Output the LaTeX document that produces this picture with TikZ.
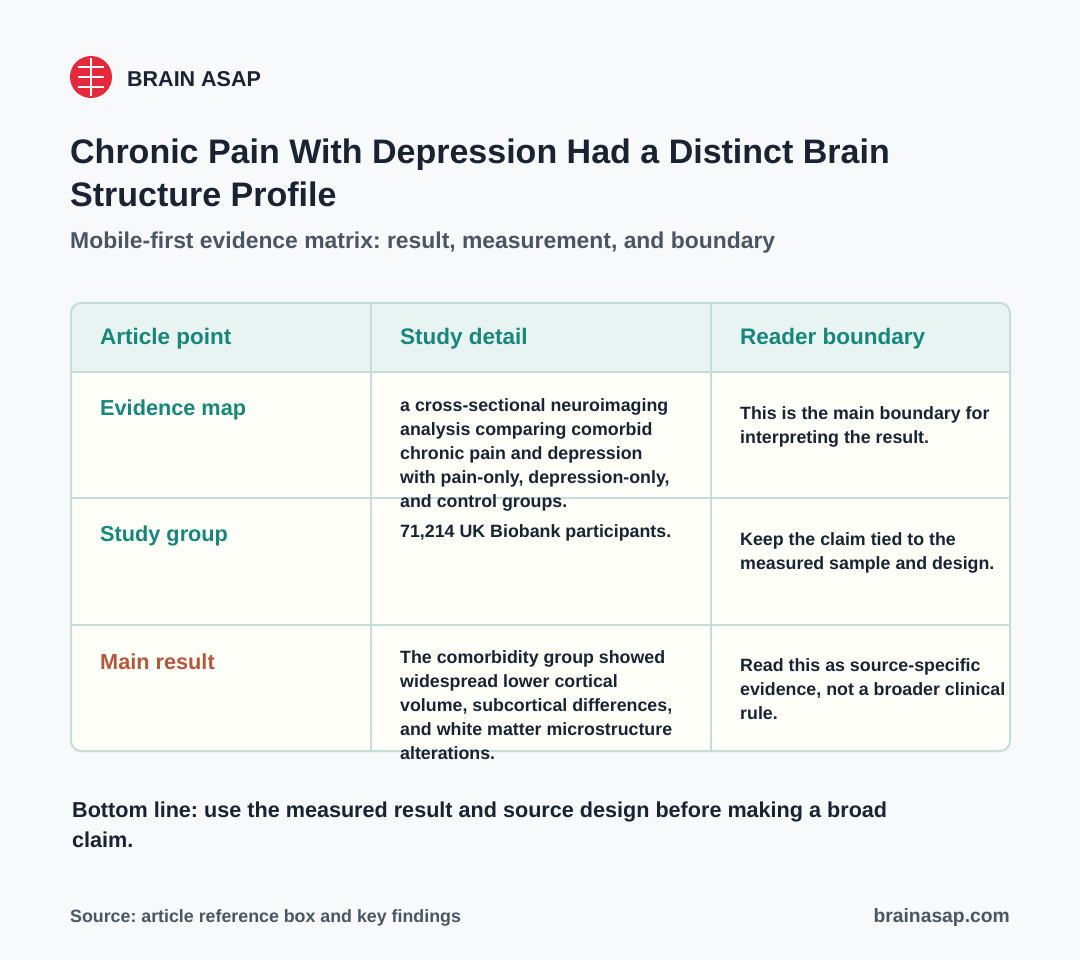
\documentclass[tikz,border=0pt]{standalone}
\usepackage{fontspec}
\setmainfont{Liberation Sans}
\usetikzlibrary{positioning, calc}
\definecolor{bgpage}{HTML}{F7F9FA}
\definecolor{ink}{HTML}{1A2332}
\definecolor{subgray}{HTML}{4B5563}
\definecolor{tealhd}{HTML}{16877A}
\definecolor{rust}{HTML}{B5573A}
\definecolor{gridln}{HTML}{C5DCD8}
\definecolor{headfill}{HTML}{E7F4F2}
\definecolor{cellfill}{HTML}{FFFFFA}
\definecolor{brainred}{HTML}{E5283A}
\frenchspacing
\begin{document}
\begin{tikzpicture}[x=1pt, y=-1pt,
  every node/.style={inner sep=0pt, anchor=west, align=left},
  headtxt/.style={font=\fontsize{22.5}{26}\selectfont\bfseries, text=tealhd},
  rowtxt/.style={font=\fontsize{21.7}{26}\selectfont\bfseries, text=#1},
  celltxt/.style={font=\fontsize{17.8}{24}\selectfont\bfseries, text=ink, anchor=north west},
]
% page and frame
\fill[bgpage] (0,0) rectangle (1080,960);

% logo
\fill[brainred] (91,77) circle (21);
\foreach \yy in {67,77,87}
  \draw[white, line width=1.2pt] (78,\yy) -- (104,\yy);
\draw[white, line width=1.5pt] (91,58) -- (91,96);
\node[font=\fontsize{21.5}{24}\selectfont\bfseries, text=ink] (brand) at (127,79) {BRAIN ASAP};

% titles
\node[font=\fontsize{34}{43}\selectfont\bfseries, text=ink, anchor=north west] (title) at (70,139)
  {Chronic Pain With Depression Had a Distinct Brain\\Structure Profile};
\node[font=\fontsize{22.9}{24}\selectfont\bfseries, text=subgray] (subtitle) at (70,243)
  {Mobile-first evidence matrix: result, measurement, and boundary};

% table
\fill[cellfill, rounded corners=10] (71,303) rectangle (1010,751);
\begin{scope}
  \clip[rounded corners=10] (71,303) rectangle (1010,751);
  \fill[headfill] (71,303) rectangle (1010,372);
\end{scope}
\foreach \yy in {372,498,625}
  \draw[gridln, line width=1.5pt] (71,\yy) -- (1010,\yy);
\foreach \xx in {371,711}
  \draw[gridln, line width=1.5pt] (\xx,303) -- (\xx,751);
\draw[gridln, line width=2pt, rounded corners=10] (71,303) rectangle (1010,751);

\node[headtxt] (h1) at (100,339) {Article point};
\node[headtxt] (h2) at (400,339) {Study detail};
\node[headtxt] (h3) at (740,339) {Reader boundary};

\node[rowtxt=tealhd] (r1) at (100,410) {Evidence map};
\node[rowtxt=tealhd] (r2) at (100,536) {Study group};
\node[rowtxt=rust] (r3) at (100,662) {Main result};

\node[celltxt] (d1) at (400,398) {a cross-sectional neuroimaging\\analysis comparing comorbid\\chronic pain and depression\\with pain-only, depression-only,\\and control groups.};
\node[celltxt] (d2) at (400,524) {71,214 UK Biobank participants.};
\node[celltxt] (d3) at (400,650) {The comorbidity group showed\\widespread lower cortical\\volume, subcortical differences,\\and white matter microstructure\\alterations.};

\node[celltxt] (b1) at (740,406) {This is the main boundary for\\interpreting the result.};
\node[celltxt] (b2) at (740,532) {Keep the claim tied to the\\measured sample and design.};
\node[celltxt] (b3) at (740,658) {Read this as source-specific\\evidence, not a broader clinical\\rule.};

% bottom line and footer
\node[font=\fontsize{21.6}{30}\selectfont\bfseries, text=ink, anchor=north west] (bottom) at (72,802)
  {Bottom line: use the measured result and source design before making a broad\\claim.};
\node[font=\fontsize{17.8}{20}\selectfont\bfseries, text=subgray] (source) at (70,918) {Source: article reference box and key findings};
\node[font=\fontsize{19.3}{20}\selectfont\bfseries, text=subgray, anchor=east] (site) at (1010,918) {brainasap.com};
\end{tikzpicture}
\end{document}
